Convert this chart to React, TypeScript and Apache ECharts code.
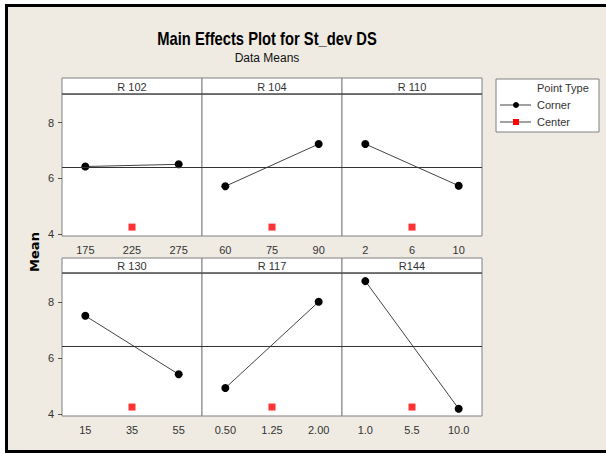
import React, { useEffect, useRef } from "react";
import * as echarts from "echarts";

const panelNames = ["R 102", "R 104", "R 110", "R 130", "R 117", "R144"];
const levelLabels = [
  ["175", "225", "275"],
  ["60", "75", "90"],
  ["2", "6", "10"],
  ["15", "35", "55"],
  ["0.50", "1.25", "2.00"],
  ["1.0", "5.5", "10.0"],
];
const cornerLow = [6.42, 5.71, 7.23, 7.5, 4.92, 8.74];
const cornerHigh = [6.5, 7.23, 5.73, 5.41, 8.0, 4.18];
const centerMeans = [4.24, 4.24, 4.24, 4.24, 4.24, 4.24];
const grandMean = 6.4;
const yTicks = [4, 6, 8];
const yMin = 3.92;
const yMax = 9.03;

const BG = "#EFEBE2";
const FONT = "'Liberation Sans', Arial, sans-serif";

export default function App() {
  const ref = useRef<HTMLDivElement>(null);
  useEffect(() => {
    if (!ref.current) return;
    const chart = echarts.init(ref.current, null, { renderer: "svg" });
    const colLeft = [62, 202, 342];
    const colW = 140;
    const rowTop = [94, 273];
    const rowH = [142, 143];
    const headTop = [78, 258];

    const grids: any[] = [];
    const xAxes: any[] = [];
    const yAxes: any[] = [];
    const series: any[] = [];
    const graphics: any[] = [];

    // frame
    graphics.push(
      { type: "rect", shape: { x: 0, y: 0, width: 606, height: 4 }, style: { fill: "#ffffff" }, z: 0 },
      { type: "rect", shape: { x: 0, y: 4, width: 5, height: 449 }, style: { fill: "#ffffff" }, z: 0 },
      { type: "rect", shape: { x: 5, y: 4, width: 601, height: 3 }, style: { fill: "#000" }, z: 1 },
      { type: "rect", shape: { x: 5, y: 4, width: 3, height: 449 }, style: { fill: "#000" }, z: 1 },
      { type: "rect", shape: { x: 5, y: 450, width: 601, height: 3 }, style: { fill: "#000" }, z: 1 }
    );

    panelNames.forEach((name, i) => {
      const r = Math.floor(i / 3);
      const c = i % 3;
      grids.push({
        left: colLeft[c],
        top: rowTop[r],
        width: colW,
        height: rowH[r],
        show: true,
        backgroundColor: "#ffffff",
        borderColor: "#808080",
        borderWidth: 1,
      });
      xAxes.push({
        type: "category",
        gridIndex: i,
        data: levelLabels[i],
        boundaryGap: true,
        axisLine: { show: false },
        axisTick: { show: false },
        axisLabel: { color: "#333", fontSize: 11, fontFamily: FONT, margin: 8 },
        splitLine: { show: false },
      });
      yAxes.push({
        type: "value",
        gridIndex: i,
        min: yMin,
        max: yMax,
        axisLine: { show: false },
        axisTick: {
          show: c === 0,
          length: 4,
          customValues: yTicks,
          lineStyle: { color: "#555" },
        },
        axisLabel: {
          show: c === 0,
          customValues: yTicks,
          color: "#333",
          fontSize: 11,
          fontFamily: FONT,
          margin: 8,
        },
        splitLine: { show: false },
      });
      series.push({
        type: "line",
        xAxisIndex: i,
        yAxisIndex: i,
        data: [cornerLow[i], "-", cornerHigh[i]],
        connectNulls: true,
        symbol: "circle",
        symbolSize: 8,
        itemStyle: { color: "#000" },
        lineStyle: { color: "#444", width: 1 },
        markLine: {
          silent: true,
          symbol: "none",
          label: { show: false },
          lineStyle: { color: "#333", width: 1, type: "solid" },
          data: [{ yAxis: grandMean }],
        },
        z: 3,
      });
      series.push({
        type: "scatter",
        xAxisIndex: i,
        yAxisIndex: i,
        data: [[levelLabels[i][1], centerMeans[i]]],
        symbol: "rect",
        symbolSize: 7,
        itemStyle: { color: "#ff0000" },
        z: 3,
      });
      // header
      const hh = rowTop[r] - headTop[r];
      graphics.push({
        type: "rect",
        shape: { x: colLeft[c], y: headTop[r], width: colW, height: hh },
        style: { fill: "#ffffff", stroke: "#808080", lineWidth: 1 },
        z: 5,
      });
      graphics.push({
        type: "line",
        shape: { x1: colLeft[c], y1: rowTop[r], x2: colLeft[c] + colW, y2: rowTop[r] },
        style: { stroke: "#333", lineWidth: 1 },
        z: 6,
      });
      graphics.push({
        type: "text",
        x: colLeft[c] + colW / 2,
        y: headTop[r] + hh / 2 + 0.5,
        style: {
          text: name,
          fill: "#333",
          fontSize: 11,
          fontFamily: FONT,
          align: "center",
          verticalAlign: "middle",
        },
        z: 7,
      });
    });

    // title
    graphics.push(
      {
        type: "text",
        x: 267,
        y: 38,
        scaleX: 0.82,
        style: {
          text: "Main Effects Plot for St_dev DS",
          fill: "#000",
          fontSize: 18,
          fontWeight: "bold",
          fontFamily: FONT,
          align: "center",
          verticalAlign: "middle",
        },
        z: 5,
      },
      {
        type: "text",
        x: 267,
        y: 58,
        style: {
          text: "Data Means",
          fill: "#111",
          fontSize: 12,
          fontFamily: FONT,
          align: "center",
          verticalAlign: "middle",
        },
        z: 5,
      },
      {
        type: "text",
        x: 34,
        y: 252,
        rotation: Math.PI / 2,
        style: {
          text: "Mean",
          fill: "#000",
          fontSize: 13,
          fontWeight: "bold",
          fontFamily: "'DejaVu Sans', sans-serif",
          align: "center",
          verticalAlign: "middle",
        },
        z: 5,
      }
    );

    // legend
    graphics.push(
      {
        type: "rect",
        shape: { x: 496, y: 79, width: 103, height: 53 },
        style: { fill: "#ffffff", stroke: "#808080", lineWidth: 1 },
        z: 5,
      },
      {
        type: "text",
        x: 537,
        y: 88,
        style: { text: "Point Type", fill: "#333", fontSize: 11, fontFamily: FONT, verticalAlign: "middle" },
        z: 6,
      },
      {
        type: "line",
        shape: { x1: 500, y1: 105, x2: 531, y2: 105 },
        style: { stroke: "#444", lineWidth: 1 },
        z: 6,
      },
      { type: "circle", shape: { cx: 516, cy: 105, r: 3 }, style: { fill: "#000" }, z: 7 },
      {
        type: "text",
        x: 537,
        y: 105,
        style: { text: "Corner", fill: "#333", fontSize: 11, fontFamily: FONT, verticalAlign: "middle" },
        z: 6,
      },
      {
        type: "line",
        shape: { x1: 500, y1: 122, x2: 531, y2: 122 },
        style: { stroke: "#444", lineWidth: 1 },
        z: 6,
      },
      { type: "rect", shape: { x: 513, y: 119, width: 6, height: 6 }, style: { fill: "#ff0000" }, z: 7 },
      {
        type: "text",
        x: 537,
        y: 122,
        style: { text: "Center", fill: "#333", fontSize: 11, fontFamily: FONT, verticalAlign: "middle" },
        z: 6,
      }
    );

    chart.setOption({
      animation: false,
      backgroundColor: BG,
      grid: grids,
      xAxis: xAxes,
      yAxis: yAxes,
      series,
      graphic: { elements: graphics.map((g) => ({ ...g, silent: true })) },
    });
    return () => chart.dispose();
  }, []);
  return (
    <div
      ref={ref}
      style={{ position: "absolute", left: 0, top: 0, width: 606, height: 453 }}
    />
  );
}
